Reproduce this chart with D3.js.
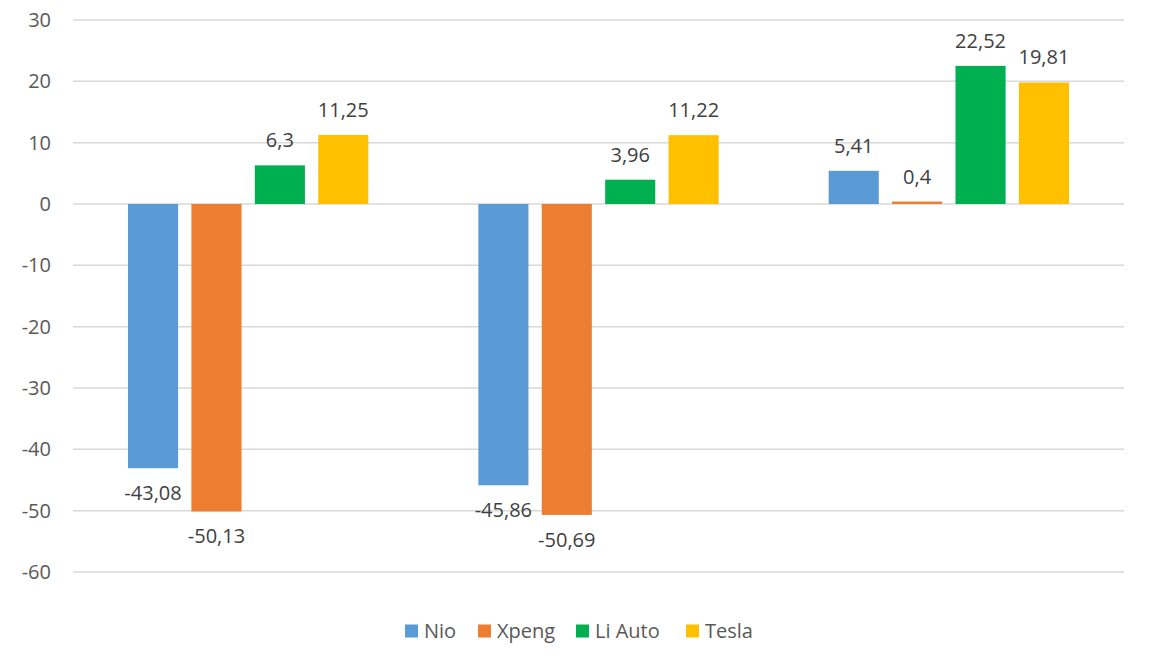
<!DOCTYPE html>
<html>
<head>
<meta charset="utf-8">
<script src="https://cdn.jsdelivr.net/npm/d3@7"></script>
<style>
  body { margin: 0; background: #fff; }
  svg { font-family: "Open Sans", "Noto Sans", sans-serif; }
</style>
</head>
<body>
<script>
// data
const groups = ["g1", "g2", "g3"];          // categories have no labels in the chart
const seriesNames = ["Nio", "Xpeng", "Li Auto", "Tesla"];
const nio    = [-43.08, -45.86, 5.41];
const xpeng  = [-50.13, -50.69, 0.4];
const liAuto = [6.3, 3.96, 22.52];
const tesla  = [11.25, 11.22, 19.81];
const colors = ["#5B9BD5", "#ED7D31", "#00B050", "#FFC000"];
const yTicks = [30, 20, 10, 0, -10, -20, -30, -40, -50, -60];

const values = [nio, xpeng, liAuto, tesla];

const width = 1149, height = 665;
const margin = { top: 20, right: 25, bottom: 93, left: 73 };

const svg = d3.select("body").append("svg")
  .attr("width", width)
  .attr("height", height);

const y = d3.scaleLinear()
  .domain([-60, 30])
  .range([height - margin.bottom, margin.top]);

const x0 = d3.scaleBand()
  .domain(groups)
  .range([margin.left, width - margin.right]);

const x1 = d3.scaleBand()
  .domain(seriesNames)
  .range([55, x0.bandwidth() - 55])
  .paddingInner(0.21);

// gridlines
svg.append("g")
  .selectAll("line")
  .data(yTicks)
  .join("line")
  .attr("x1", margin.left)
  .attr("x2", width - margin.right)
  .attr("y1", d => y(d))
  .attr("y2", d => y(d))
  .attr("stroke", "#d9d9d9")
  .attr("stroke-width", 1.5);

// y axis labels
svg.append("g")
  .selectAll("text")
  .data(yTicks)
  .join("text")
  .attr("x", 51)
  .attr("y", d => y(d))
  .attr("dy", "0.35em")
  .attr("text-anchor", "end")
  .attr("font-size", 20)
  .attr("fill", "#595959")
  .text(d => d);

// bars
const fmt = v => String(v).replace(".", ",");

const series = svg.append("g")
  .selectAll("g")
  .data(seriesNames)
  .join("g")
  .attr("fill", (d, i) => colors[i]);

series.selectAll("rect")
  .data((name, i) => values[i].map((v, j) => ({ name, v, g: groups[j] })))
  .join("rect")
  .attr("x", d => x0(d.g) + x1(d.name))
  .attr("width", x1.bandwidth())
  .attr("y", d => y(Math.max(0, d.v)))
  .attr("height", d => Math.abs(y(d.v) - y(0)));

// data labels
series.selectAll("text")
  .data((name, i) => values[i].map((v, j) => ({ name, v, g: groups[j] })))
  .join("text")
  .attr("x", d => x0(d.g) + x1(d.name) + x1.bandwidth() / 2)
  .attr("y", d => d.v >= 0 ? y(d.v) - 25 : y(d.v) + 25)
  .attr("dy", "0.35em")
  .attr("text-anchor", "middle")
  .attr("font-size", 20)
  .attr("fill", "#404040")
  .text(d => fmt(d.v));

// legend
const legendX = [405, 478, 576, 686];
const legend = svg.append("g")
  .selectAll("g")
  .data(seriesNames)
  .join("g")
  .attr("transform", (d, i) => `translate(${legendX[i]},631)`);

legend.append("rect")
  .attr("x", 0)
  .attr("y", -6.5)
  .attr("width", 13)
  .attr("height", 13)
  .attr("fill", (d, i) => colors[i]);

legend.append("text")
  .attr("x", 19)
  .attr("dy", "0.35em")
  .attr("font-size", 20)
  .attr("fill", "#595959")
  .text(d => d);
</script>
</body>
</html>
